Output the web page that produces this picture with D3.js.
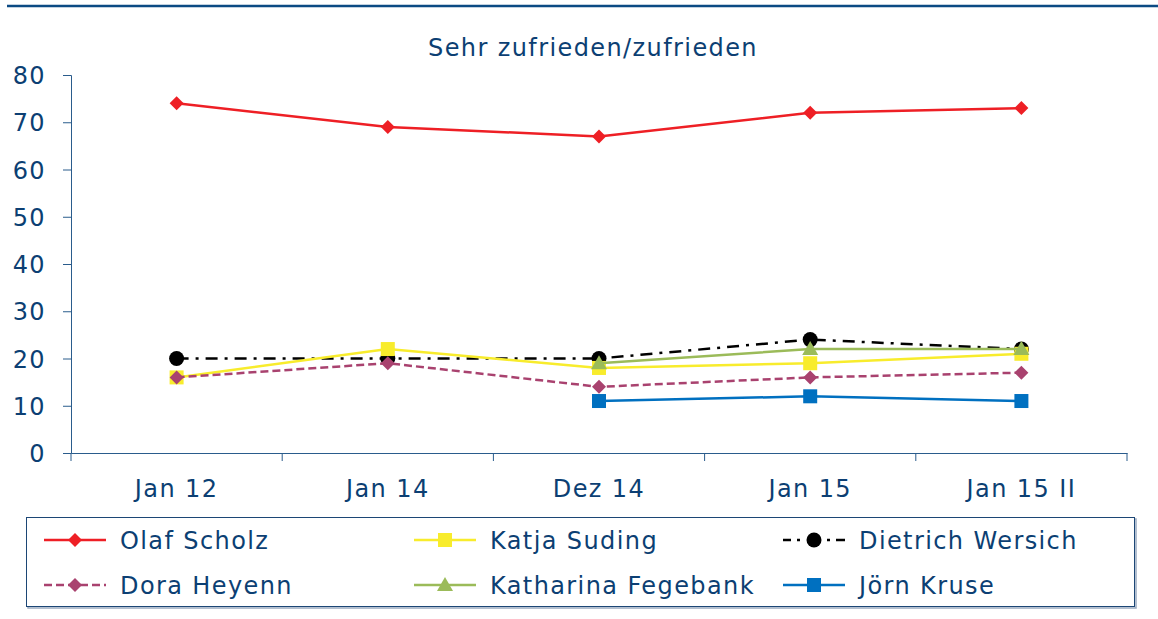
<!DOCTYPE html>
<html>
<head>
<meta charset="utf-8">
<script src="https://cdn.jsdelivr.net/npm/d3@7"></script>
<style>
  body { margin: 0; background: #fff; }
  text { font-family: "DejaVu Sans", Verdana, sans-serif; fill: #0c3f73; letter-spacing: 1.4px; }
</style>
</head>
<body>
<div id="container"></div>
<script>
const categories = ["Jan 12", "Jan 14", "Dez 14", "Jan 15", "Jan 15 II"];
const yTicks = [0, 10, 20, 30, 40, 50, 60, 70, 80];
const names = ["Olaf Scholz", "Katja Suding", "Dietrich Wersich", "Dora Heyenn", "Katharina Fegebank", "Jörn Kruse"];
const scholz = [74, 69, 67, 72, 73];
const suding = [16, 22, 18, 19, 21];
const wersich = [20, 20, 20, 24, 22];
const heyenn = [16, 19, 14, 16, 17];
const fegebank = [null, null, 19, 22, 22];
const kruse = [null, null, 11, 12, 11];

const w = 1158; // canvas width
const h = 619; // canvas height
const textColor = "#0c3f73";
const fontSize = "24px";

const series = [
    { name: names[0], values: scholz, color: "#ee1f25", dash: null, legendDash: null, marker: "diamond" },
    { name: names[1], values: suding, color: "#f8ec2c", dash: null, legendDash: null, marker: "square" },
    { name: names[2], values: wersich, color: "#000000", dash: "12,7,3,7", legendDash: "8,6,3,27,3,6,9", marker: "circle" },
    { name: names[3], values: heyenn, color: "#a9426f", dash: "8,4", legendDash: "8,4", marker: "diamond" },
    { name: names[4], values: fegebank, color: "#9bbb59", dash: null, legendDash: null, marker: "triangle" },
    { name: names[5], values: kruse, color: "#0070c0", dash: null, legendDash: null, marker: "square" }
];

const svg = d3.select("#container")
    .append("svg")
    .attr("width", w)
    .attr("height", h)

// top rule
svg.append("line")
    .attr("x1", 7).attr("x2", w)
    .attr("y1", 6).attr("y2", 6)
    .attr("stroke", "#0b4a83")
    .attr("stroke-width", 2.5)

svg.append("text")
    .attr("x", 593)
    .attr("y", 56)
    .attr("text-anchor", "middle")
    .style("font-size", fontSize)
    .text("Sehr zufrieden/zufrieden")

const x = d3.scaleBand()
    .domain(categories)
    .range([71, 1127])

const y = d3.scaleLinear()
    .domain([0, 80])
    .range([453, 75])

const yAxis = d3.axisLeft(y)
    .tickValues(yTicks)
    .tickSize(8)
    .tickPadding(17)

const gy = svg.append("g")
    .attr("transform", "translate(71, 0)")
    .call(yAxis)
gy.selectAll("text").style("font-size", fontSize).attr("fill", textColor).attr("dy", "0.36em")

const xAxis = d3.axisBottom(x)
    .tickSize(0)
    .tickPadding(27)

const gx = svg.append("g")
    .attr("transform", "translate(0, 453)")
    .call(xAxis)
gx.selectAll("text").style("font-size", fontSize).attr("fill", textColor)

// category boundary ticks
const bounds = categories.map((c) => x(c)).concat([x.range()[1]])
gx.selectAll(".bound")
    .data(bounds)
    .enter().append("line")
    .attr("class", "bound")
    .attr("x1", (d) => d).attr("x2", (d) => d)
    .attr("y1", 0).attr("y2", 8)
    .attr("stroke", "#2a5c8c")

svg.selectAll(".domain").attr("stroke", "#2a5c8c")
svg.selectAll(".tick line").attr("stroke", "#2a5c8c")

const cx = (i) => x(categories[i]) + x.bandwidth() / 2

function drawMarker(g, type, color, px, py) {
    if (type === "diamond") {
        g.append("path")
            .attr("d", `M${px},${py - 7}L${px + 7},${py}L${px},${py + 7}L${px - 7},${py}Z`)
            .attr("fill", color)
    } else if (type === "square") {
        g.append("rect")
            .attr("x", px - 7).attr("y", py - 7)
            .attr("width", 14).attr("height", 14)
            .attr("fill", color)
    } else if (type === "triangle") {
        g.append("path")
            .attr("d", `M${px},${py - 8}L${px + 8},${py + 6}L${px - 8},${py + 6}Z`)
            .attr("fill", color)
    } else {
        g.append("circle")
            .attr("cx", px).attr("cy", py).attr("r", 7.5)
            .attr("fill", color)
    }
}

const line = d3.line()
    .defined((d) => d !== null)
    .x((d, i) => cx(i))
    .y((d) => y(d))

// drawing order: Scholz, Wersich, Suding, Fegebank, Heyenn, Kruse
const drawOrder = [series[0], series[2], series[1], series[4], series[3], series[5]]

drawOrder.forEach((s) => {
    const g = svg.append("g")
    g.append("path")
        .datum(s.values)
        .attr("d", line)
        .attr("fill", "none")
        .attr("stroke", s.color)
        .attr("stroke-width", 2.5)
        .attr("stroke-dasharray", s.dash)
    s.values.forEach((v, i) => {
        if (v !== null) drawMarker(g, s.marker, s.color, cx(i), y(v))
    })
})

// legend
svg.append("rect")
    .attr("x", 28).attr("y", 519)
    .attr("width", 1108).attr("height", 89)
    .attr("fill", "none")
    .attr("stroke", "#9aaac0")
    .attr("stroke-width", 1.5)
svg.append("rect")
    .attr("x", 26.5).attr("y", 517.5)
    .attr("width", 1108).attr("height", 89)
    .attr("fill", "#fff")
    .attr("stroke", "#1c4675")
    .attr("stroke-width", 1)

const legendCols = [44, 414, 783]
const legendRows = [540, 585]

series.forEach((s, i) => {
    const lx = legendCols[i % 3]
    const ly = legendRows[Math.floor(i / 3)]
    const g = svg.append("g")
    g.append("line")
        .attr("x1", lx).attr("x2", lx + 62)
        .attr("y1", ly).attr("y2", ly)
        .attr("stroke", s.color)
        .attr("stroke-width", 2.5)
        .attr("stroke-dasharray", s.legendDash)
    drawMarker(g, s.marker, s.color, lx + 31, ly)
    g.append("text")
        .attr("x", lx + 76)
        .attr("y", ly)
        .attr("dy", "0.36em")
        .style("font-size", fontSize)
        .text(s.name)
})
</script>
</body>
</html>
